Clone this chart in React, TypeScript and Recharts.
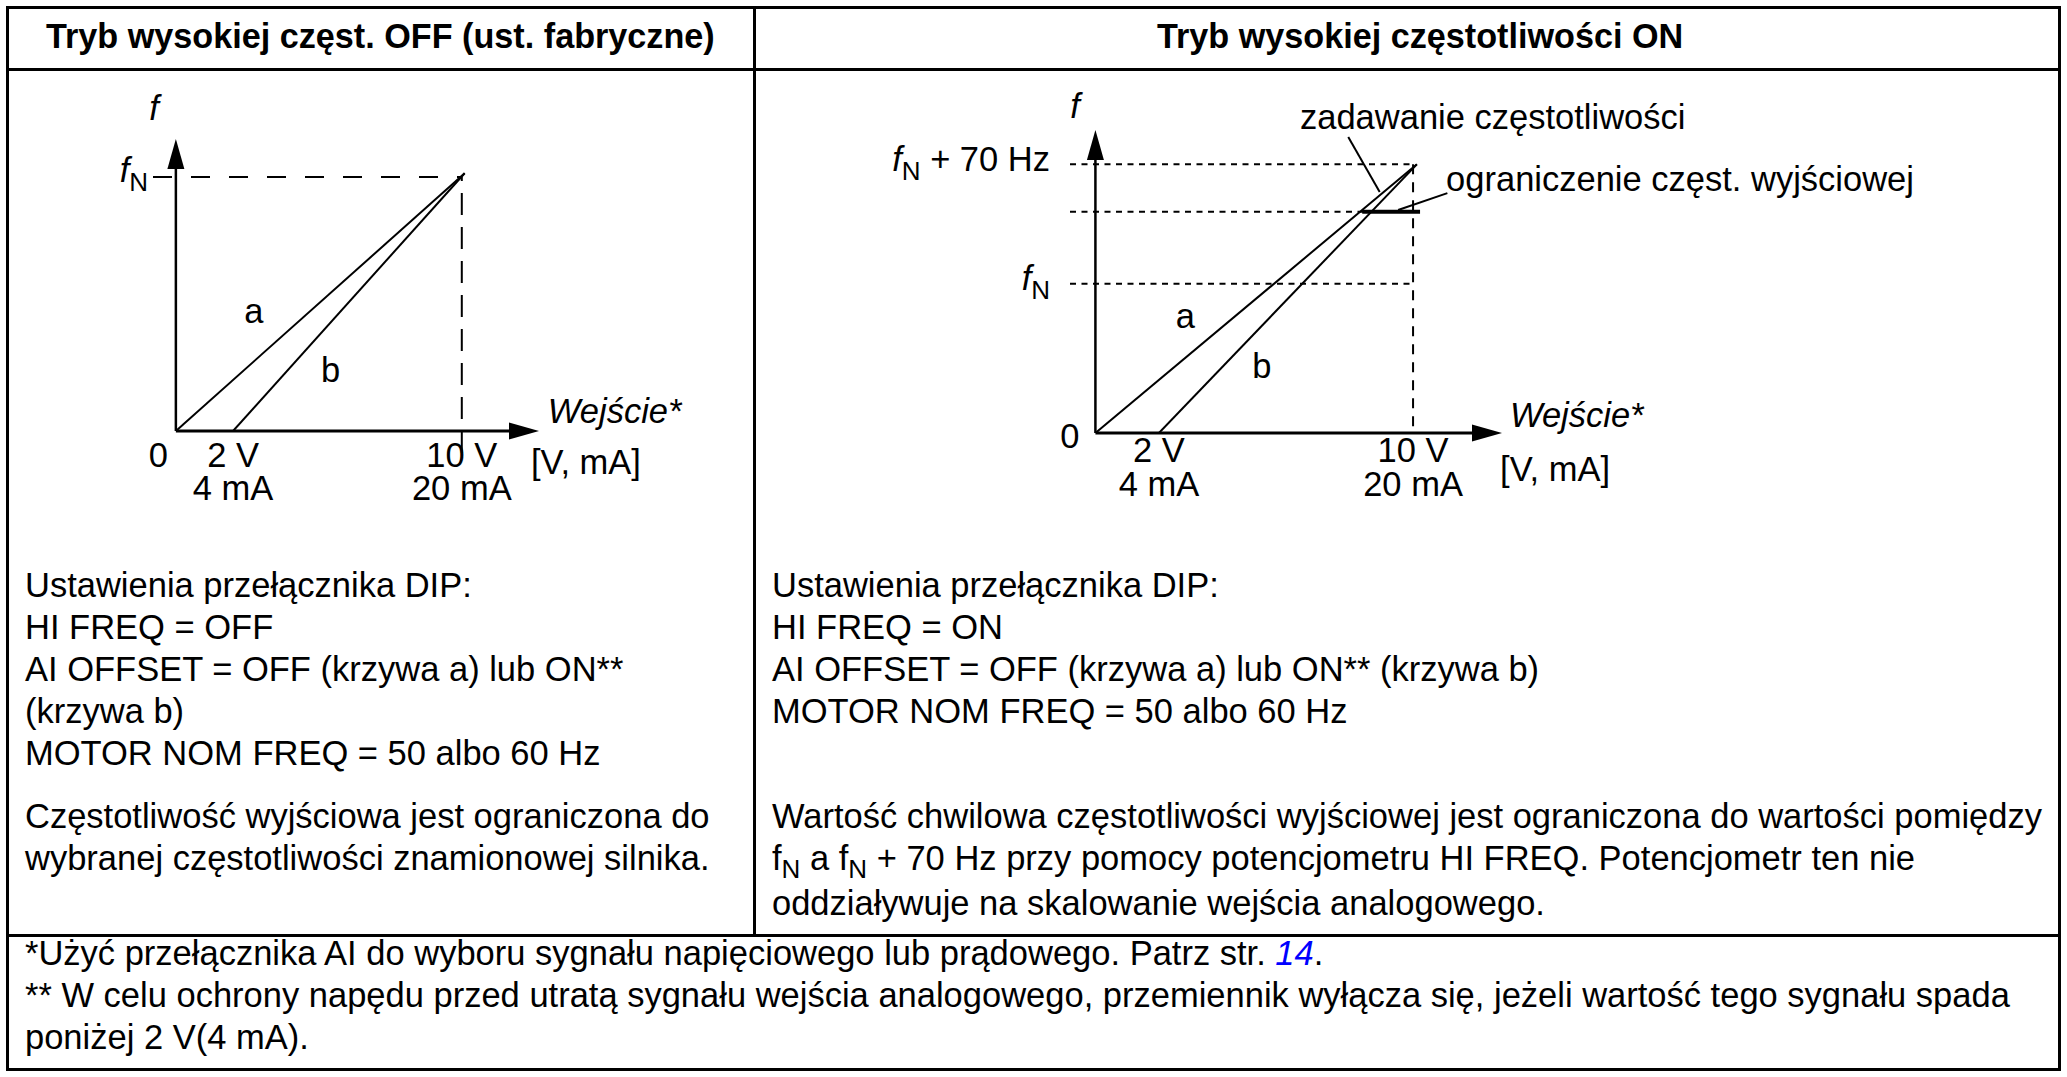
import { Line, LineChart, ReferenceDot, ReferenceLine, XAxis, YAxis } from "recharts"

const FONT = '"Liberation Sans", Arial, Helvetica, sans-serif'

// input axis (volts / mA)
const inputTicks = [0, 2, 10]
const voltLabels = ["0", "2 V", "10 V"]
const currentLabels = ["", "4 mA", "20 mA"]

// HI FREQ OFF: frequency normalised so that fN = 1
const offCurveA = [
  { x: 0, y: 0 },
  { x: 10.1, y: 1.015 },
]
const offCurveB = [
  { x: 2, y: 0 },
  { x: 10.1, y: 1.015 },
]
const offLevels = [1]
const offLevelLabels = ["fN"]

// HI FREQ ON: fN = 1, fN + 70 Hz = 1.8, output limit in between
const onCurveA = [
  { x: 0, y: 0 },
  { x: 10.12, y: 1.8 },
]
const onCurveB = [
  { x: 2, y: 0 },
  { x: 10.12, y: 1.8 },
]
const onLimit = [
  { x: 8.4, y: 1.483 },
  { x: 10.22, y: 1.483 },
]
const onLevels = [1, 1.483, 1.8]
const onLevelLabels = ["fN", "", "fN + 70 Hz"]

// table text
const headers = ["Tryb wysokiej częst. OFF (ust. fabryczne)", "Tryb wysokiej częstotliwości ON"]
const leftSettings = [
  "Ustawienia przełącznika DIP:",
  "HI FREQ = OFF",
  "AI OFFSET = OFF (krzywa a) lub ON**",
  "(krzywa b)",
  "MOTOR NOM FREQ = 50 albo 60 Hz",
]
const leftNote = ["Częstotliwość wyjściowa jest ograniczona do", "wybranej częstotliwości znamionowej silnika."]
const rightSettings = [
  "Ustawienia przełącznika DIP:",
  "HI FREQ = ON",
  "AI OFFSET = OFF (krzywa a) lub ON** (krzywa b)",
  "MOTOR NOM FREQ = 50 albo 60 Hz",
]
const rightNote = [
  "Wartość chwilowa częstotliwości wyjściowej jest ograniczona do wartości pomiędzy",
  " przy pomocy potencjometru HI FREQ. Potencjometr ten nie",
  "oddziaływuje na skalowanie wejścia analogowego.",
]
const footnotes = [
  "*Użyć przełącznika AI do wyboru sygnału napięciowego lub prądowego. Patrz str. ",
  "** W celu ochrony napędu przed utratą sygnału wejścia analogowego, przemiennik wyłącza się, jeżeli wartość tego sygnału spada",
  "poniżej 2 V(4 mA).",
]
const footPage = "14"

const FS = 34.5

const label =
  (content: string, anchor: "start" | "middle" | "end" = "middle", italic = false) =>
  (p: any) => (
    <text
      x={p.cx}
      y={p.cy}
      textAnchor={anchor}
      fontSize={FS}
      fontStyle={italic ? "italic" : "normal"}
      fontFamily={FONT}
      fill="#000"
      style={{ whiteSpace: "pre" }}
    >
      {content}
    </text>
  )

const arrowUp = (p: any) => (
  <polygon points={`${p.cx},${p.cy} ${p.cx - 8.5},${p.cy + 30} ${p.cx + 8.5},${p.cy + 30}`} fill="#000" />
)
const arrowRight = (p: any) => (
  <polygon points={`${p.cx},${p.cy} ${p.cx - 30},${p.cy - 8.5} ${p.cx - 30},${p.cy + 8.5}`} fill="#000" />
)

const inputTick = (dyVolt: number, dyCurrent: number, zeroDx: number, zeroDy: number) => (props: any) => {
  const { x, y, payload } = props
  const i = inputTicks.indexOf(payload.value)
  if (i === 0) {
    return (
      <text x={x - zeroDx} y={y + zeroDy} textAnchor="end" fontSize={FS} fontFamily={FONT} fill="#000">
        {voltLabels[i]}
      </text>
    )
  }
  return (
    <text x={x} y={y + dyVolt} textAnchor="middle" fontSize={FS} fontFamily={FONT} fill="#000">
      <tspan x={x}>{voltLabels[i]}</tspan>
      <tspan x={x} dy={dyCurrent - dyVolt}>
        {currentLabels[i]}
      </tspan>
    </text>
  )
}

const levelTick = (levels: number[], names: string[], gap: number, dy: number) => (props: any) => {
  const { x, y, payload } = props
  const name = names[levels.indexOf(payload.value)] || ""
  if (!name) return <g />
  const rest = name.slice(2)
  return (
    <text x={x - gap} y={y + dy} textAnchor="end" fontSize={FS} fontFamily={FONT} fill="#000" style={{ whiteSpace: "pre" }}>
      <tspan fontStyle="italic">f</tspan>
      <tspan fontSize={26} dy={9}>
        N
      </tspan>
      {rest ? <tspan dy={-9}>{rest}</tspan> : null}
    </text>
  )
}

function OffChart() {
  const xMax = 12.7
  const yMax = 1.15
  return (
    <LineChart width={740} height={460} margin={{ top: 67, right: 211, bottom: 41, left: 83 }}>
      <XAxis
        type="number"
        dataKey="x"
        domain={[-0.8, xMax]}
        ticks={inputTicks}
        interval={0}
        allowDataOverflow
        axisLine={false}
        tickLine={false}
        tickSize={0}
        tickMargin={0}
        height={60}
        tick={inputTick(36, 69, 8, 36)}
      />
      <YAxis
        type="number"
        domain={[0, yMax]}
        ticks={offLevels}
        interval={0}
        allowDataOverflow
        axisLine={false}
        tickLine={false}
        tickSize={0}
        tickMargin={0}
        width={60}
        tick={levelTick(offLevels, offLevelLabels, 5, 5)}
      />
      {offLevels.map((l) => (
        <ReferenceLine
          key={l}
          segment={[
            { x: -0.8, y: l },
            { x: 10, y: l },
          ]}
          stroke="#000"
          strokeWidth={2}
          strokeDasharray="19 19"
        />
      ))}
      <ReferenceLine
        segment={[
          { x: 10, y: -0.087 },
          { x: 10, y: 1 },
        ]}
        stroke="#000"
        strokeWidth={2}
        strokeDasharray="22 12"
        ifOverflow="visible"
      />
      <ReferenceLine
        segment={[
          { x: 0, y: 0 },
          { x: xMax - 0.5, y: 0 },
        ]}
        stroke="#000"
        strokeWidth={3}
      />
      <ReferenceLine
        segment={[
          { x: 0, y: 0 },
          { x: 0, y: yMax - 0.06 },
        ]}
        stroke="#000"
        strokeWidth={2.5}
      />
      <ReferenceDot x={xMax} y={0} r={1} shape={arrowRight} ifOverflow="visible" />
      <ReferenceDot x={0} y={yMax} r={1} shape={arrowUp} ifOverflow="visible" />
      <Line data={offCurveA} dataKey="y" type="linear" stroke="#000" strokeWidth={2} dot={false} isAnimationActive={false} />
      <Line data={offCurveB} dataKey="y" type="linear" stroke="#000" strokeWidth={2} dot={false} isAnimationActive={false} />
      <ReferenceDot x={-0.766} y={1.225} r={1} shape={label("f", "middle", true)} ifOverflow="visible" />
      <ReferenceDot x={2.73} y={0.425} r={1} shape={label("a")} ifOverflow="visible" />
      <ReferenceDot x={5.41} y={0.193} r={1} shape={label("b")} ifOverflow="visible" />
      <ReferenceDot x={13.01} y={0.0315} r={1} shape={label("Wejście*", "start", true)} ifOverflow="visible" />
      <ReferenceDot x={12.42} y={-0.169} r={1} shape={label("[V, mA]", "start")} ifOverflow="visible" />
    </LineChart>
  )
}

function OnChart() {
  const xMax = 12.8
  const yMax = 2.03
  return (
    <LineChart width={1300} height={460} margin={{ top: 58, right: 556, bottom: 39, left: 252 }}>
      <XAxis
        type="number"
        dataKey="x"
        domain={[-0.8, xMax]}
        ticks={inputTicks}
        interval={0}
        allowDataOverflow
        axisLine={false}
        tickLine={false}
        tickSize={0}
        tickMargin={0}
        height={60}
        tick={inputTick(29, 63, 16, 15)}
      />
      <YAxis
        type="number"
        domain={[0, yMax]}
        ticks={onLevels}
        interval={0}
        allowDataOverflow
        axisLine={false}
        tickLine={false}
        tickSize={0}
        tickMargin={0}
        width={60}
        tick={levelTick(onLevels, onLevelLabels, 20, 6.5)}
      />
      {onLevels.map((l) => (
        <ReferenceLine
          key={l}
          segment={[
            { x: -0.8, y: l },
            { x: 10, y: l },
          ]}
          stroke="#000"
          strokeWidth={2}
          strokeDasharray="6 5.5"
        />
      ))}
      <ReferenceLine
        segment={[
          { x: 10, y: 1.8 },
          { x: 10, y: 0 },
        ]}
        stroke="#000"
        strokeWidth={2}
        strokeDasharray="10 8"
      />
      <ReferenceLine
        segment={[
          { x: 0, y: 0 },
          { x: xMax - 0.5, y: 0 },
        ]}
        stroke="#000"
        strokeWidth={3}
      />
      <ReferenceLine
        segment={[
          { x: 0, y: 0 },
          { x: 0, y: yMax - 0.1 },
        ]}
        stroke="#000"
        strokeWidth={2.5}
      />
      <ReferenceDot x={xMax} y={0} r={1} shape={arrowRight} ifOverflow="visible" />
      <ReferenceDot x={0} y={yMax} r={1} shape={arrowUp} ifOverflow="visible" />
      <Line data={onCurveA} dataKey="y" type="linear" stroke="#000" strokeWidth={2} dot={false} isAnimationActive={false} />
      <Line data={onCurveB} dataKey="y" type="linear" stroke="#000" strokeWidth={2} dot={false} isAnimationActive={false} />
      <Line data={onLimit} dataKey="y" type="linear" stroke="#000" strokeWidth={4} dot={false} isAnimationActive={false} />
      <ReferenceLine
        segment={[
          { x: 7.96, y: 1.983 },
          { x: 8.95, y: 1.614 },
        ]}
        stroke="#000"
        strokeWidth={2}
      />
      <ReferenceLine
        segment={[
          { x: 11.08, y: 1.607 },
          { x: 9.53, y: 1.494 },
        ]}
        stroke="#000"
        strokeWidth={2}
        ifOverflow="visible"
      />
      <ReferenceDot x={-0.64} y={2.11} r={1} shape={label("f", "middle", true)} ifOverflow="visible" />
      <ReferenceDot x={6.44} y={2.036} r={1} shape={label("zadawanie częstotliwości", "start")} ifOverflow="visible" />
      <ReferenceDot x={11.04} y={1.621} r={1} shape={label("ograniczenie częst. wyjściowej", "start")} ifOverflow="visible" />
      <ReferenceDot x={2.83} y={0.703} r={1} shape={label("a")} ifOverflow="visible" />
      <ReferenceDot x={5.24} y={0.368} r={1} shape={label("b")} ifOverflow="visible" />
      <ReferenceDot x={13.05} y={0.04} r={1} shape={label("Wejście*", "start", true)} ifOverflow="visible" />
      <ReferenceDot x={12.74} y={-0.32} r={1} shape={label("[V, mA]", "start")} ifOverflow="visible" />
    </LineChart>
  )
}

const Sub = () => <span style={{ fontSize: 26, position: "relative", top: 8 }}>N</span>

function Lines({ lines, left, top }: { lines: React.ReactNode[]; left: number; top: number }) {
  return (
    <div style={{ position: "absolute", left, top, fontSize: FS, lineHeight: "42px", whiteSpace: "pre" }}>
      {lines.map((l, i) => (
        <div key={i}>{l}</div>
      ))}
    </div>
  )
}

const rule = (left: number, top: number, width: number, height: number) => (
  <div style={{ position: "absolute", left, top, width, height, background: "#000" }} />
)

export default function App() {
  return (
    <div
      style={{
        position: "absolute",
        left: 0,
        top: 0,
        width: 2067,
        height: 1077,
        background: "#fff",
        color: "#000",
        fontFamily: FONT,
        overflow: "hidden",
      }}
    >
      <div style={{ position: "absolute", left: 6, top: 6, width: 2055, height: 1065, border: "3px solid #000", boxSizing: "border-box" }} />
      {rule(6, 68, 2055, 3)}
      {rule(6, 934, 2055, 3)}
      {rule(753, 6, 3, 931)}

      <div style={{ position: "absolute", left: 46, top: 15, fontSize: 34.2, fontWeight: "bold", lineHeight: "42px", whiteSpace: "pre" }}>
        {headers[0]}
      </div>
      <div style={{ position: "absolute", left: 1157, top: 15, fontSize: 34.2, fontWeight: "bold", lineHeight: "42px", whiteSpace: "pre" }}>
        {headers[1]}
      </div>

      <div style={{ position: "absolute", left: 10, top: 72 }}>
        <OffChart />
      </div>
      <div style={{ position: "absolute", left: 758, top: 72 }}>
        <OnChart />
      </div>

      <Lines lines={leftSettings} left={25} top={564} />
      <Lines lines={leftNote} left={25} top={795} />
      <Lines lines={rightSettings} left={772} top={564} />
      <Lines
        lines={[
          rightNote[0],
          <>
            f<Sub /> a f<Sub /> + 70 Hz{rightNote[1]}
          </>,
          rightNote[2],
        ]}
        left={772}
        top={795}
      />
      <Lines
        lines={[
          <>
            {footnotes[0]}
            <span style={{ color: "#0000ff", fontStyle: "italic" }}>{footPage}</span>.
          </>,
          footnotes[1],
          footnotes[2],
        ]}
        left={25}
        top={932}
      />
    </div>
  )
}
